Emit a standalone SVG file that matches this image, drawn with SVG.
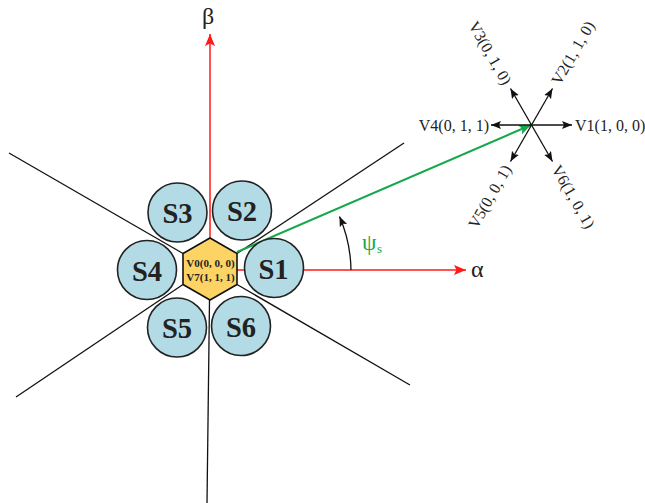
<svg xmlns="http://www.w3.org/2000/svg" width="645" height="503" viewBox="0 0 645 503">
  <defs>
    <marker id="arrRed" markerUnits="userSpaceOnUse" markerWidth="14" markerHeight="12" refX="12" refY="5" orient="auto">
      <path d="M0,0 L12,5 L0,10 L2.5,5 z" fill="#ff1a1a"/>
    </marker>
    <marker id="arrBlack" markerUnits="userSpaceOnUse" markerWidth="12" markerHeight="10" refX="10" refY="4" orient="auto">
      <path d="M0,0 L10,4 L0,8 L2,4 z" fill="#111"/>
    </marker>
    <marker id="arrGreen" markerUnits="userSpaceOnUse" markerWidth="14" markerHeight="12" refX="12" refY="5" orient="auto">
      <path d="M0,0 L12,5 L0,10 L2.5,5 z" fill="#14a84a"/>
    </marker>
  </defs>
  <style>
    .sector { stroke: #111; stroke-width: 1.3; fill: none; }
    .axis { stroke: #ff1a1a; stroke-width: 1.5; fill: none; marker-end: url(#arrRed); }
    .vec { stroke: #111; stroke-width: 1.3; fill: none; marker-end: url(#arrBlack); }
    .sec { fill: #b3dbe6; stroke: #222; stroke-width: 1.6; }
    .slabel { font-family: "Liberation Serif", "Times New Roman", serif; font-weight: bold; font-size: 28.5px; fill: #222; text-anchor: middle; }
    .vlabel { font-family: "Liberation Serif", "Times New Roman", serif; font-size: 16px; fill: #222; }
    .greek { font-family: "Liberation Serif", "Times New Roman", serif; font-size: 24px; fill: #222; }
  </style>

  <!-- sector boundary lines -->
  <g id="connectors">
    <line class="sector" x1="183" y1="253.5" x2="9" y2="153"/>
    <line class="sector" x1="237" y1="253.5" x2="404" y2="143"/>
    <line class="sector" x1="183" y1="284.5" x2="16" y2="397"/>
    <line class="sector" x1="237" y1="284.5" x2="410" y2="385"/>
    <line class="sector" x1="209.5" y1="300" x2="207" y2="503"/>

    <!-- alpha / beta axes -->
    <line class="axis" x1="236" y1="270" x2="466" y2="270"/>
    <line class="axis" x1="210" y1="239" x2="210" y2="34"/>

    <!-- stator flux vector -->
    <line x1="237" y1="252" x2="531" y2="125" stroke="#14a84a" stroke-width="2" marker-end="url(#arrGreen)"/>

    <!-- angle arc -->
    <path d="M351,270 A140,140 0 0 0 339.5,216.5" fill="none" stroke="#111" stroke-width="1.3" marker-end="url(#arrBlack)"/>
  </g>

  <!-- sector circles -->
  <g id="S1"><circle class="sec" cx="274" cy="268" r="29.5"/><text class="slabel" x="273.5" y="278.5">S1</text></g>
  <g id="S2"><circle class="sec" cx="242" cy="210.5" r="29.5"/><text class="slabel" x="242" y="221">S2</text></g>
  <g id="S3"><circle class="sec" cx="177.5" cy="212.5" r="29.5"/><text class="slabel" x="177.5" y="223">S3</text></g>
  <g id="S4"><circle class="sec" cx="147" cy="270" r="29.5"/><text class="slabel" x="147" y="280.5">S4</text></g>
  <g id="S5"><circle class="sec" cx="177" cy="327.5" r="29.5"/><text class="slabel" x="177" y="338">S5</text></g>
  <g id="S6"><circle class="sec" cx="241" cy="326" r="29.5"/><text class="slabel" x="241" y="336.5">S6</text></g>

  <!-- zero vectors hexagon -->
  <g id="V0V7">
    <polygon points="210,238 237,253.5 237,284.5 210,300 183,284.5 183,253.5" fill="#fdd464" stroke="#111" stroke-width="1.6"/>
    <text x="210.5" y="267" font-family="Liberation Serif, serif" font-weight="bold" font-size="11px" fill="#222" text-anchor="middle">V0(0, 0, 0)</text>
    <text x="210.5" y="281" font-family="Liberation Serif, serif" font-weight="bold" font-size="11px" fill="#222" text-anchor="middle">V7(1, 1, 1)</text>
  </g>

  <!-- axis labels -->
  <g id="alpha"><text class="greek" x="471" y="277">α</text></g>
  <g id="beta"><text class="greek" x="208" y="24" text-anchor="middle">β</text></g>
  <g id="psi">
    <text x="362" y="250" font-family="Liberation Serif, serif" font-size="23px" fill="#14a84a">ψ</text>
    <text x="377" y="253" font-family="Liberation Serif, serif" font-size="13px" fill="#14a84a">s</text>
  </g>

  <!-- active voltage vectors -->
  <g id="vectors">
    <line class="vec" x1="531.5" y1="125" x2="572" y2="125"/>
    <line class="vec" x1="531.5" y1="125" x2="491" y2="125"/>
    <line class="vec" x1="531.5" y1="125" x2="552.5" y2="88.5"/>
    <line class="vec" x1="531.5" y1="125" x2="510.5" y2="88.5"/>
    <line class="vec" x1="531.5" y1="125" x2="510.5" y2="161.5"/>
    <line class="vec" x1="531.5" y1="125" x2="552.5" y2="161.5"/>
  </g>
  <g id="V1"><text class="vlabel" x="575" y="130.5">V1(1, 0, 0)</text></g>
  <g id="V4"><text class="vlabel" x="489" y="130.5" text-anchor="end">V4(0, 1, 1)</text></g>
  <g id="V2"><text class="vlabel" transform="translate(560,86) rotate(-60)">V2(1, 1, 0)</text></g>
  <g id="V3"><text class="vlabel" text-anchor="end" transform="translate(503,86) rotate(60)">V3(0, 1, 0)</text></g>
  <g id="V5"><text class="vlabel" text-anchor="end" transform="translate(512,169) rotate(-60)">V5(0, 0, 1)</text></g>
  <g id="V6"><text class="vlabel" transform="translate(551,169) rotate(60)">V6(1, 0, 1)</text></g>
</svg>
